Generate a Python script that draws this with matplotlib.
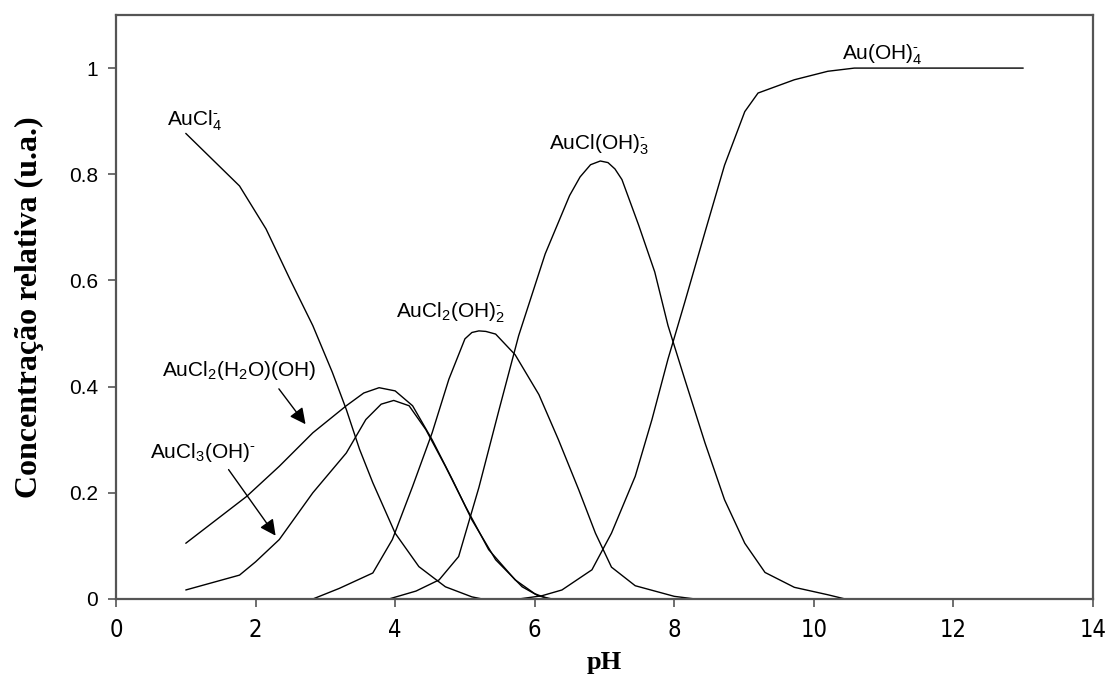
import matplotlib
matplotlib.use("Agg")
import matplotlib.pyplot as plt
from matplotlib import font_manager as fm
import numpy as np

plt.rcParams["font.family"] = ["Liberation Sans", "DejaVu Sans"]
plt.rcParams["mathtext.fontset"] = "custom"
plt.rcParams["mathtext.rm"] = "Liberation Sans"
plt.rcParams["mathtext.it"] = "Liberation Sans:italic"
plt.rcParams["mathtext.bf"] = "Liberation Sans:bold"

# especiação do Au(III) em função do pH
ph_aucl4 = [1.0, 1.77, 2.15, 2.49, 2.82, 3.10, 3.30, 3.49, 3.68, 4.0, 4.34, 4.72, 5.1, 5.25]
c_aucl4 = [0.877, 0.778, 0.697, 0.603, 0.515, 0.427, 0.357, 0.282, 0.219, 0.124, 0.061,
           0.023, 0.004, 0.0]

ph_aucl3oh = [1.0, 1.77, 2.0, 2.34, 2.82, 3.30, 3.58, 3.8, 3.98, 4.2, 4.44, 4.72, 5.01,
              5.34, 5.72, 6.0, 6.2]
c_aucl3oh = [0.017, 0.045, 0.07, 0.112, 0.20, 0.275, 0.338, 0.367, 0.374, 0.364, 0.319,
             0.25, 0.174, 0.093, 0.036, 0.01, 0.0]

ph_aucl2h2o = [1.0, 1.87, 2.34, 2.82, 3.30, 3.55, 3.77, 4.0, 4.25, 4.53, 4.82, 5.10,
               5.44, 5.82, 6.05, 6.25]
c_aucl2h2o = [0.105, 0.193, 0.25, 0.313, 0.364, 0.388, 0.398, 0.392, 0.364, 0.30, 0.225,
              0.149, 0.074, 0.023, 0.006, 0.0]

ph_aucl2oh2 = [2.82, 3.2, 3.68, 3.96, 4.25, 4.53, 4.77, 5.0, 5.1, 5.2, 5.3, 5.44, 5.72,
               6.06, 6.34, 6.63, 6.87, 7.1, 7.44, 8.0, 8.3, 8.6]
c_aucl2oh2 = [0.0, 0.02, 0.049, 0.112, 0.212, 0.313, 0.414, 0.49, 0.502, 0.505, 0.504,
              0.499, 0.46, 0.385, 0.30, 0.206, 0.124, 0.06, 0.025, 0.005, 0.0, 0.0]

ph_auclo3 = [3.4, 3.91, 4.3, 4.63, 4.91, 5.2, 5.49, 5.77, 6.15, 6.5, 6.65, 6.8, 6.94,
             7.05, 7.15, 7.25, 7.49, 7.72, 7.91, 8.15, 8.44, 8.72, 9.01, 9.3, 9.72, 10.2,
             10.45]
c_auclo3 = [0.0, 0.0, 0.015, 0.036, 0.08, 0.21, 0.357, 0.496, 0.65, 0.76, 0.795, 0.818,
            0.825, 0.822, 0.81, 0.79, 0.704, 0.616, 0.515, 0.414, 0.294, 0.187, 0.105,
            0.05, 0.022, 0.008, 0.0]

ph_auoh4 = [5.77, 6.1, 6.39, 6.82, 7.1, 7.44, 7.68, 7.91, 8.15, 8.44, 8.72, 9.01, 9.2,
            9.72, 10.2, 10.58, 13.0]
c_auoh4 = [0.0, 0.006, 0.017, 0.055, 0.124, 0.231, 0.338, 0.452, 0.559, 0.691, 0.817,
           0.918, 0.953, 0.978, 0.994, 1.0, 1.0]

# fonte estreita para os números do eixo x, se existir
narrow = None
for f in fm.fontManager.ttflist:
    if f.name == "Liberation Sans Narrow" and f.weight in (400, "normal", "regular"):
        narrow = f.fname
        break
if narrow is None:
    for f in fm.fontManager.ttflist:
        if f.name == "DejaVu Sans" and f.stretch == "condensed" and f.style == "normal" \
                and f.weight in (400, "normal", "book", "regular"):
            narrow = f.fname
            break

fig = plt.figure(figsize=(11.07, 6.93), dpi=100)
ax = fig.add_axes([116 / 1107, 94 / 693, 977 / 1107, 584 / 693])

curvas = [(ph_aucl4, c_aucl4), (ph_aucl3oh, c_aucl3oh), (ph_aucl2h2o, c_aucl2h2o),
          (ph_aucl2oh2, c_aucl2oh2), (ph_auclo3, c_auclo3), (ph_auoh4, c_auoh4)]
for x, y in curvas:
    ax.plot(x, y, color="black", lw=1.0, solid_capstyle="round", solid_joinstyle="round")

ax.set_xlim(0, 14)
ax.set_ylim(0, 1.1)
ax.set_xticks(np.arange(0, 15, 2))
ax.set_yticks([0, 0.2, 0.4, 0.6, 0.8, 1.0])
ax.set_yticklabels(["0", "0.2", "0.4", "0.6", "0.8", "1"])

for s in ax.spines.values():
    s.set_color("#555555")
    s.set_linewidth(1.6)
ax.tick_params(direction="out", length=6, width=1.2, color="#555555")
ax.tick_params(axis="y", labelsize=15, pad=7)
ax.tick_params(axis="x", labelsize=17, pad=8)
if narrow:
    for t in ax.get_xticklabels():
        t.set_fontproperties(fm.FontProperties(fname=narrow, size=17))

ax.set_xlabel("pH", fontsize=19, fontweight="bold", family="Liberation Serif", labelpad=6)
ax.set_ylabel("Concentração relativa (u.a.)", fontsize=23, fontweight="bold",
              family="Liberation Serif", labelpad=18)

fs = 15
ax.text(0.73, 0.90, r"AuCl$_4^{\text{-}}$", fontsize=fs, va="center")
ax.text(0.66, 0.43, r"AuCl$_2$(H$_2$O)(OH)", fontsize=fs, va="center")
ax.text(0.49, 0.276, r"AuCl$_3$(OH)$^{\text{-}}$", fontsize=fs, va="center")
ax.text(4.01, 0.54, r"AuCl$_2$(OH)$_2^{\text{-}}$", fontsize=fs, va="center")
ax.text(6.21, 0.855, r"AuCl(OH)$_3^{\text{-}}$", fontsize=fs, va="center")
ax.text(10.41, 1.025, r"Au(OH)$_4^{\text{-}}$", fontsize=fs, va="center")

seta = dict(arrowstyle="-|>", color="black", lw=1.0, mutation_scale=24)
ax.annotate("", xy=(2.74, 0.325), xytext=(2.31, 0.40), arrowprops=seta)
ax.annotate("", xy=(2.31, 0.115), xytext=(1.59, 0.248), arrowprops=seta)

fig.savefig("out.png", dpi=100)
